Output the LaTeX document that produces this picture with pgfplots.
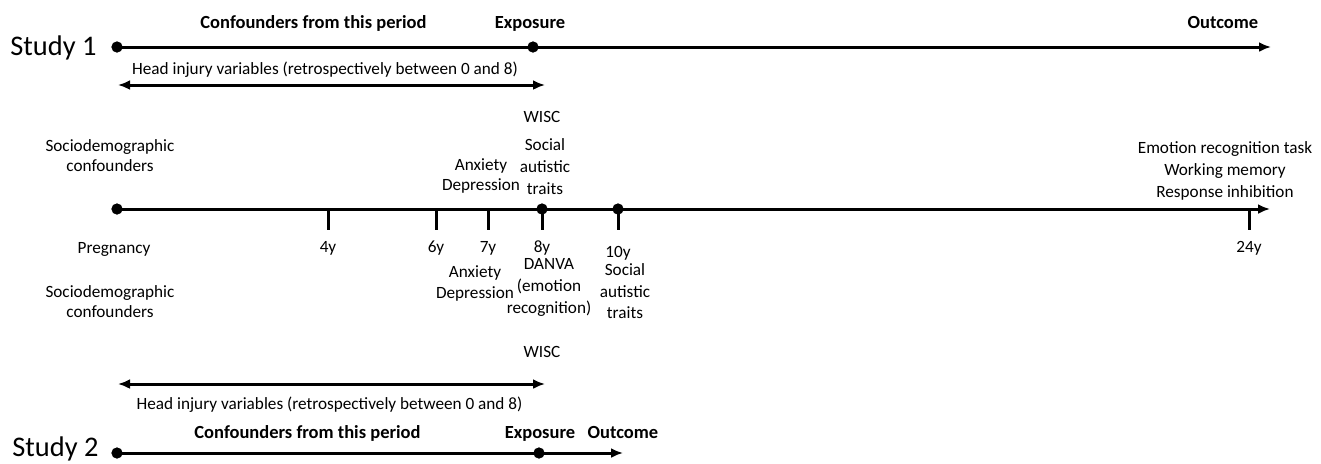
\documentclass[border=0pt]{standalone}
\usepackage{pgfplots}
\pgfplotsset{compat=1.18}
\usepackage{fontspec}
\setmainfont{Carlito}
\usetikzlibrary{arrows.meta}
\tikzset{
  lbl/.style={font=\fontsize{8.6}{10}\selectfont, inner sep=0pt, anchor=base},
  bld/.style={font=\bfseries\fontsize{9.25}{10}\selectfont, inner sep=0pt, anchor=base},
  big/.style={font=\fontsize{14.2}{16}\selectfont, anchor=base west, inner sep=0pt, text depth=0pt},
}
\begin{document}
\begin{tikzpicture}
\begin{axis}[
  width=660.5pt, height=231.5pt, scale only axis,
  xmin=0, xmax=1321, ymin=0, ymax=463, y dir=reverse,
  hide axis, clip=false,
]
% invisible frame
\addplot[draw=none] coordinates {(0,0) (1321,463)};
% Study 1
\addplot[line width=1.5pt, -{Latex[length=6pt,width=5pt]}] coordinates {(117,47) (1271,47)};
\addplot[only marks, mark=*, mark size=2.6pt] coordinates {(117,47) (533,47)};
\addplot[line width=1.5pt, {Latex[length=6pt,width=5pt]}-{Latex[length=6pt,width=5pt]}] coordinates {(118,85) (545,85)};
% main timeline
\addplot[line width=1.5pt, -{Latex[length=6pt,width=5pt]}] coordinates {(117,209) (1270,209)};
\addplot[line width=1.5pt, unbounded coords=jump] coordinates {
 (328,209) (328,230) (nan,nan)
 (436,209) (436,230) (nan,nan)
 (488,209) (488,230) (nan,nan)
 (542,209) (542,230) (nan,nan)
 (618,209) (618,230) (nan,nan)
 (1249,209) (1249,230)};
\addplot[only marks, mark=*, mark size=2.6pt] coordinates {(117,209) (542,209) (618,209)};
% Study 2
\addplot[line width=1.5pt, {Latex[length=6pt,width=5pt]}-{Latex[length=6pt,width=5pt]}] coordinates {(118,384) (545,384)};
\addplot[line width=1.5pt, -{Latex[length=6pt,width=5pt]}] coordinates {(117,453) (623,453)};
\addplot[only marks, mark=*, mark size=2.6pt] coordinates {(117,453) (539,453)};

% texts Study 1
\node[big] at (axis cs:10,55) {Study 1};
\node[bld] at (axis cs:313.5,28) {Confounders from this period};
\node[bld] at (axis cs:530,28) {Exposure};
\node[bld] at (axis cs:1223,28) {Outcome};
\node[lbl] at (axis cs:325,74) {Head injury variables (retrospectively between 0 and 8)};
% above main line
\node[lbl] at (axis cs:542,122) {WISC};
\node[lbl] at (axis cs:545,150) {Social};
\node[lbl] at (axis cs:545,172) {autistic};
\node[lbl] at (axis cs:545,194) {traits};
\node[lbl] at (axis cs:481,170) {Anxiety};
\node[lbl] at (axis cs:481,190) {Depression};
\node[lbl] at (axis cs:110,151) {Sociodemographic};
\node[lbl] at (axis cs:110,171) {confounders};
\node[lbl] at (axis cs:1225,153) {Emotion recognition task};
\node[lbl] at (axis cs:1225,175) {Working memory};
\node[lbl] at (axis cs:1225,197) {Response inhibition};
% below main line
\node[lbl] at (axis cs:114,253) {Pregnancy};
\node[lbl] at (axis cs:328,252) {4y};
\node[lbl] at (axis cs:436,252) {6y};
\node[lbl] at (axis cs:488,252) {7y};
\node[lbl] at (axis cs:542,252) {8y};
\node[lbl] at (axis cs:618,257) {10y};
\node[lbl] at (axis cs:1249,252) {24y};
\node[lbl] at (axis cs:475,277) {Anxiety};
\node[lbl] at (axis cs:475,298) {Depression};
\node[lbl] at (axis cs:549,269) {DANVA};
\node[lbl] at (axis cs:549,291) {(emotion};
\node[lbl] at (axis cs:549,313) {recognition)};
\node[lbl] at (axis cs:625,275) {Social};
\node[lbl] at (axis cs:625,297) {autistic};
\node[lbl] at (axis cs:625,318) {traits};
\node[lbl] at (axis cs:110,297) {Sociodemographic};
\node[lbl] at (axis cs:110,317) {confounders};
\node[lbl] at (axis cs:542,357) {WISC};
% Study 2
\node[lbl] at (axis cs:329.5,409) {Head injury variables (retrospectively between 0 and 8)};
\node[bld] at (axis cs:307.5,438) {Confounders from this period};
\node[bld] at (axis cs:540,438) {Exposure};
\node[bld] at (axis cs:623,438) {Outcome};
\node[big] at (axis cs:12,456) {Study 2};
\end{axis}
\end{tikzpicture}
\end{document}
